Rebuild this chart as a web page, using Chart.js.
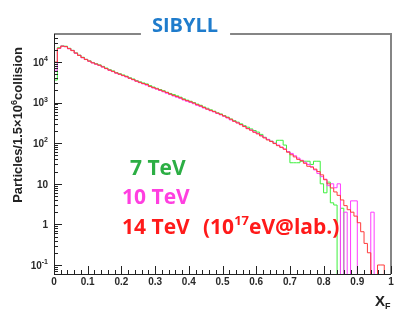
<!DOCTYPE html>
<html>
<head>
<meta charset="utf-8">
<script src="https://cdn.jsdelivr.net/npm/chart.js@4/dist/chart.umd.min.js"></script>
<style>
  html, body { margin: 0; padding: 0; background: #fff; }
  #wrap { width: 409px; height: 315px; }
</style>
</head>
<body>
<div id="wrap"><canvas id="chart" width="409" height="315"></canvas></div>
<script>
// x_F histogram, 100 bins of 0.01 (bin i covers i*0.01 .. (i+1)*0.01)
const binWidth = 0.01;

// 14 TeV (red)
const red14 = [
  10000, 21900, 24500, 24000, 21400, 19100, 16600, 14500, 12900, 11500,
  10500, 9550, 8910, 8320, 7590, 6920, 6310, 5890, 5370, 5010,
  4680, 4370, 3980, 3720, 3390, 3160, 2950, 2800, 2510, 2340,
  2190, 2040, 1910, 1780, 1620, 1510, 1410, 1320, 1200, 1120,
  1050, 977, 891, 832, 759, 690, 646, 603, 550, 513,
  468, 427, 390, 347, 316, 288, 257, 228, 209, 186,
  170, 151, 135, 120, 110, 98, 87, 79, 71, 60,
  52, 46, 40, 37, 32, 27, 26, 23, 20, 16.6,
  12.6, 10, 7.9, 6.3, 5.2, 4.0, 2.9, 2.3, 2.0, 1.6,
  1.1, 0.66, 0.34, 0.2, 0, 0, 0.1, 0.1, 0, 0
];

// 10 TeV (magenta)
const magenta10 = [
  6300, 21500, 24700, 23800, 21200, 19300, 16400, 14600, 12700, 11600,
  10400, 9500, 8800, 8200, 7500, 6850, 6250, 5800, 5300, 4950,
  4600, 4300, 3950, 3650, 3350, 3100, 2900, 2700, 2480, 2300,
  2150, 1990, 1850, 1700, 1580, 1460, 1360, 1270, 1160, 1080,
  1010, 940, 860, 800, 735, 690, 630, 590, 540, 500,
  460, 420, 375, 345, 318, 285, 260, 230, 212, 190,
  172, 155, 138, 124, 112, 100, 90, 80, 72, 62,
  56, 49, 43, 38, 34, 30, 26, 22, 18, 15,
  13, 9, 10, 8, 10, 0, 2, 0, 3.8, 3.8,
  0, 0, 0, 0, 2, 0, 0, 0, 0, 0
];

// 7 TeV (green)
const green7 = [
  3600, 22500, 25000, 24500, 21800, 19400, 16800, 14800, 13100, 11700,
  10700, 9750, 9100, 8500, 7800, 7100, 6500, 6050, 5500, 5150,
  4800, 4480, 4100, 3820, 3480, 3250, 3050, 2880, 2620, 2420,
  2250, 2100, 1960, 1800, 1680, 1580, 1470, 1360, 1240, 1150,
  1080, 1000, 920, 860, 780, 725, 665, 615, 560, 525,
  480, 440, 395, 360, 330, 300, 270, 248, 225, 205,
  188, 165, 140, 124, 112, 100, 118, 118, 90, 62,
  33, 33, 33, 36, 36, 36, 30, 36, 36, 10,
  6, 11, 3.4, 3, 0, 2.5, 0, 0, 0, 0,
  0, 0, 0, 0, 0, 0, 0, 0, 0, 0
];

const xTickValues = [0, 0.1, 0.2, 0.3, 0.4, 0.5, 0.6, 0.7, 0.8, 0.9, 1];
const xTickLabels = ['0', '0.1', '0.2', '0.3', '0.4', '0.5', '0.6', '0.7', '0.8', '0.9', '1'];
const yTickValues = [0.1, 1, 10, 100, 1000, 10000];
const yTickBase = ['10', '1', '10', '10', '10', '10'];
const yTickExp = ['-1', '', '', '2', '3', '4'];

const Y_MIN = 0.06;
const Y_MAX = 49000;
const EMPTY_BIN = 1e-3; // empty bins fall below the axis and get clipped

// turn bin contents into step points (lower edges + closing edge at 1)
function toSteps(values) {
  const pts = values.map((v, i) => ({ x: i * binWidth, y: v > 0 ? v : EMPTY_BIN }));
  pts.push({ x: values.length * binWidth, y: pts[pts.length - 1].y });
  return pts;
}

function histDataset(label, values, color) {
  return {
    label: label,
    data: toSteps(values),
    borderColor: color,
    borderWidth: 1,
    stepped: true,
    pointRadius: 0,
    tension: 0,
    fill: false
  };
}

// draws a "10" + superscript label, anchored at its right end
function drawPower(ctx, base, exp, xRight, yMid, font, supFont) {
  ctx.font = supFont;
  const wExp = exp ? ctx.measureText(exp).width : 0;
  ctx.font = font;
  const wBase = ctx.measureText(base).width;
  ctx.textAlign = 'left';
  ctx.textBaseline = 'middle';
  ctx.fillText(base, xRight - wExp - wBase, yMid);
  if (exp) {
    ctx.font = supFont;
    ctx.fillText(exp, xRight - wExp, yMid - 4);
  }
}

const rootFrame = {
  id: 'rootFrame',
  afterDatasetsDraw(chart) {
    const { ctx, chartArea: a, scales } = chart;
    const xs = scales.x, ys = scales.y;
    ctx.save();

    // title first, so we know the gap in the top frame line
    const titleFont = 'bold 20px "Open Sans"';
    ctx.font = titleFont;
    const title = 'SIBYLL';
    const titleW = ctx.measureText(title).width;
    const titleX = 185;
    const gapL = titleX - titleW / 2 - 11;
    const gapR = titleX + titleW / 2 + 12;

    // grey top/right frame
    ctx.strokeStyle = '#858585';
    ctx.lineWidth = 2;
    ctx.beginPath();
    ctx.moveTo(a.left, a.top);
    ctx.lineTo(gapL, a.top);
    ctx.moveTo(gapR, a.top);
    ctx.lineTo(a.right, a.top);
    ctx.lineTo(a.right, a.bottom);
    ctx.stroke();

    // black left/bottom axes
    ctx.strokeStyle = '#222';
    ctx.lineWidth = 1;
    ctx.beginPath();
    ctx.moveTo(a.left + 0.5, a.top);
    ctx.lineTo(a.left + 0.5, a.bottom + 0.5);
    ctx.lineTo(a.right, a.bottom + 0.5);
    ctx.stroke();

    // x ticks every 0.02, long every 0.1
    ctx.beginPath();
    for (let i = 0; i <= 50; i++) {
      const px = Math.round(xs.getPixelForValue(i * 0.02)) + 0.5;
      const len = i % 5 === 0 ? 8 : 4;
      ctx.moveTo(px, a.bottom);
      ctx.lineTo(px, a.bottom - len);
    }
    // y log ticks
    for (let d = -2; d <= 4; d++) {
      for (let k = 1; k <= 9; k++) {
        const v = k * Math.pow(10, d);
        if (v < Y_MIN || v > Y_MAX) continue;
        const py = Math.round(ys.getPixelForValue(v)) + 0.5;
        const len = k === 1 ? 8 : 4;
        ctx.moveTo(a.left, py);
        ctx.lineTo(a.left + len, py);
      }
    }
    ctx.stroke();

    // tick labels
    ctx.fillStyle = '#2a2a2a';
    ctx.font = 'bold 10px "Liberation Sans"';
    ctx.textAlign = 'center';
    ctx.textBaseline = 'middle';
    xTickValues.forEach((v, i) => {
      ctx.fillText(xTickLabels[i], xs.getPixelForValue(v), a.bottom + 8);
    });
    yTickValues.forEach((v, i) => {
      drawPower(ctx, yTickBase[i], yTickExp[i], a.left - 6, ys.getPixelForValue(v) + 1,
        'bold 10px "Liberation Sans"', 'bold 7px "Liberation Sans"');
    });

    // y axis title (rotated)
    ctx.save();
    ctx.translate(22, 125);
    ctx.rotate(-Math.PI / 2);
    const f1 = 'bold 13px "Liberation Sans"', f2 = 'bold 9px "Liberation Sans"';
    const parts = [['Particles/1.5\u00d710', f1, 0], ['6', f2, -5], ['collision', f1, 0]];
    let total = 0;
    parts.forEach(p => { ctx.font = p[1]; total += ctx.measureText(p[0]).width; });
    let cx = -total / 2;
    ctx.textAlign = 'left';
    ctx.textBaseline = 'alphabetic';
    ctx.fillStyle = '#222';
    parts.forEach(p => {
      ctx.font = p[1];
      ctx.fillText(p[0], cx, p[2]);
      cx += ctx.measureText(p[0]).width;
    });
    ctx.restore();

    // x axis title
    ctx.fillStyle = '#222';
    ctx.textAlign = 'left';
    ctx.textBaseline = 'alphabetic';
    ctx.font = 'bold 15px "Liberation Sans"';
    ctx.fillText('X', 375, 306);
    const wX = ctx.measureText('X').width;
    ctx.font = 'bold 9px "Liberation Sans"';
    ctx.fillText('F', 375 + wX, 309);

    // title
    ctx.font = titleFont;
    ctx.fillStyle = '#1f7ccc';
    ctx.textAlign = 'center';
    ctx.fillText(title, titleX, 32);

    // energy labels
    const lf = 'bold 21px "Open Sans"';
    ctx.textAlign = 'left';
    ctx.font = lf;
    ctx.fillStyle = '#2cae44';
    ctx.fillText('7 TeV', 130, 175);
    ctx.fillStyle = '#ff3fe0';
    ctx.fillText('10 TeV', 122, 204);
    ctx.fillStyle = '#ff1a1a';
    ctx.fillText('14 TeV', 122, 234);
    let lx = 203;
    ctx.fillText('(10', lx, 234);
    lx += ctx.measureText('(10').width;
    ctx.font = 'bold 13px "Open Sans"';
    ctx.fillText('17', lx, 225);
    lx += ctx.measureText('17').width;
    ctx.font = lf;
    ctx.fillText('eV@lab.)', lx, 234);

    ctx.restore();
  }
};

new Chart(document.getElementById('chart'), {
  type: 'line',
  data: {
    datasets: [
      histDataset('14 TeV', red14, '#ff3b3b'),
      histDataset('10 TeV', magenta10, '#ff3cff'),
      histDataset('7 TeV', green7, '#3cf03c')
    ]
  },
  options: {
    responsive: false,
    animation: false,
    devicePixelRatio: 1,
    layout: { padding: { left: 54, right: 18, top: 34, bottom: 41 } },
    plugins: {
      legend: { display: false },
      tooltip: { enabled: false }
    },
    scales: {
      x: { type: 'linear', min: 0, max: 1, display: false },
      y: { type: 'logarithmic', min: Y_MIN, max: Y_MAX, display: false }
    }
  },
  plugins: [rootFrame]
});
</script>
</body>
</html>
